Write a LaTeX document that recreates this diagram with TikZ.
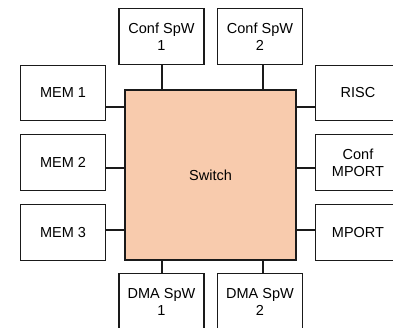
\documentclass[tikz,border=0pt]{standalone}
\usepackage{fontspec}
\setmainfont{Liberation Sans}
\definecolor{swfill}{HTML}{F8CBAD}
\definecolor{ln}{HTML}{1A1A1A}
\begin{document}
\begin{tikzpicture}[x=1pt,y=-1pt,
  box/.style={draw=ln,line width=1.1pt,fill=white,minimum width=85pt,minimum height=55.5pt,inner sep=0pt,align=center,
    font=\fontsize{14.5pt}{17pt}\selectfont},
  link/.style={draw=ln,line width=1.1pt}]
\useasboundingbox (0,0) rectangle (393,328);
\clip (0,0) rectangle (393,328);
\node[box,fill=swfill,minimum width=171pt,minimum height=170pt] (sw) at (210.5,175) {Switch};
\node[box] (cs1) at (161.5,36.5) {Conf SpW\\1};
\node[box] (cs2) at (260,36.5) {Conf SpW\\2};
\node[box] (mem1) at (63,93) {MEM 1};
\node[box] (mem2) at (63,162.5) {MEM 2};
\node[box] (mem3) at (63,232.5) {MEM 3};
\node[box] (risc) at (358,93) {RISC};
\node[box] (cmp) at (358,162.5) {Conf\\MPORT};
\node[box] (mp) at (358,232.5) {MPORT};
\node[box] (dma1) at (161.5,301.5) {DMA SpW\\1};
\node[box] (dma2) at (260,301.5) {DMA SpW\\2};
\draw[link] (mem1.east |- {0,107}) -- (sw.west |- {0,107});
\draw[link] (mem2.east |- {0,168}) -- (sw.west |- {0,168});
\draw[link] (mem3.east |- {0,230}) -- (sw.west |- {0,230});
\draw[link] (risc.west |- {0,107}) -- (sw.east |- {0,107});
\draw[link] (cmp.west |- {0,168}) -- (sw.east |- {0,168});
\draw[link] (mp.west |- {0,230}) -- (sw.east |- {0,230});
\draw[link] (cs1.south -| {162,0}) -- (sw.north -| {162,0});
\draw[link] (cs2.south -| {263,0}) -- (sw.north -| {263,0});
\draw[link] (dma1.north -| {162,0}) -- (sw.south -| {162,0});
\draw[link] (dma2.north -| {263,0}) -- (sw.south -| {263,0});
\end{tikzpicture}
\end{document}
